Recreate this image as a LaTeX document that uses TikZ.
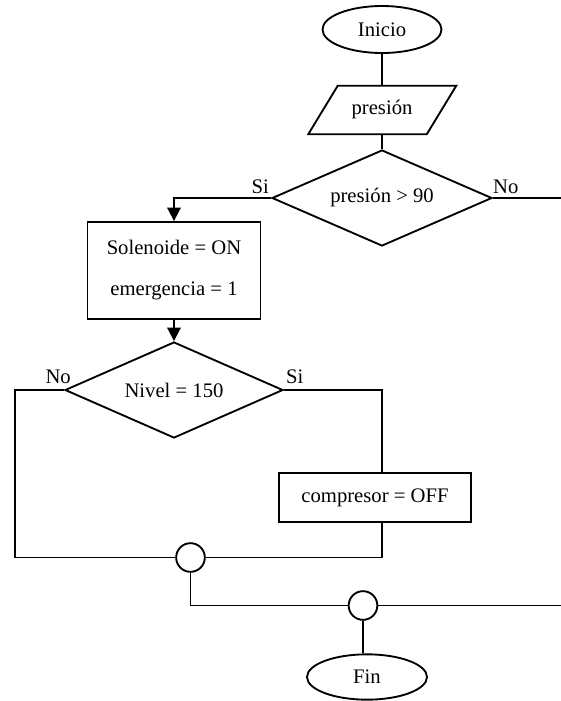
\documentclass[tikz,border=0pt]{standalone}
\usepackage{fontspec}
\setmainfont{Liberation Serif}
\usetikzlibrary{shapes.geometric,arrows.meta,calc}
\begin{document}
\begin{tikzpicture}[x=0.75pt,y=-0.75pt,
  every node/.style={font=\fontsize{15.5}{18}\selectfont, inner sep=0pt},
  flow/.style={line width=1.4pt},
  arr/.style={flow,-{Triangle[length=10pt,width=10pt]}},
  term/.style={ellipse, draw, line width=1.4pt},
  proc/.style={rectangle, draw, line width=1.4pt},
  cond/.style={diamond, draw, line width=1.4pt, shape aspect=2.29},
  joint/.style={circle, draw, line width=1.4pt, minimum size=21.5pt},
  lbl/.style={}
]
\useasboundingbox (0,0) rectangle (561,701);

% start and input
\node[term, minimum width=89.25pt, minimum height=35.25pt] (ini) at (382,29.5) {Inicio};
\node[minimum width=88.5pt, minimum height=36pt] (in) at (382,110) {presión};
\draw[flow] ($(in.north west)+(15,0)$) -- ($(in.north east)+(15,0)$)
  -- ($(in.south east)+(-14.5,0)$) -- ($(in.south west)+(-14.5,0)$) -- cycle;

% first decision and emergency block
\node[cond, minimum width=165pt, minimum height=72pt] (d1) at (382,198) {presión > 90};
\node[proc, minimum width=129.75pt, minimum height=72.75pt, align=center,
      font=\fontsize{15.5}{30.75}\selectfont] (sol) at (174,270.5) {Solenoide = ON\\emergencia = 1};

% level check and compressor
\node[cond, minimum width=163.5pt, minimum height=72pt] (d2) at (174,390) {Nivel = 150};
\node[proc, minimum width=144pt, minimum height=36.75pt] (comp) at (375,497.5) {compresor = OFF};

% junctions and end
\node[joint] (c1) at (190.5,557.5) {};
\node[joint] (c2) at (363,605.5) {};
\node[term, minimum width=90pt, minimum height=34pt] (fin) at (367,677) {Fin};

\coordinate (outA) at (561,198);
\coordinate (outB) at (561,605.5);
\coordinate (loopL) at (15,557.5);

% connectors
\draw[flow] (ini) -- (in);
\draw[flow] (in) -- (d1);
\draw[arr] (d1.west) -| (sol.north);
\draw[flow] (d1.east) -- (outA);
\draw[arr] (sol) -- (d2);
\draw[flow] (d2.west) -| (loopL) -- (c1.west);
\draw[flow] (d2.east) -| ($(comp.north)+(7,0)$);
\draw[flow] ($(comp.south)+(7,0)$) |- (c1.east);
\draw[flow] (c1.south) |- (c2.west);
\draw[flow] (c2.east) -- (outB);
\draw[flow] (c2.south) -- (c2.south |- fin.north);

% branch labels
\node[lbl, anchor=base east] (si1) at ($(d1.west)+(-2,-5)$) {Si};
\node[lbl, anchor=base west] (no1) at ($(d1.east)+(0,-5)$) {No};
\node[lbl, anchor=base east] (no2) at ($(d2.west)+(7,-7)$) {No};
\node[lbl, anchor=base west] (si2) at ($(d2.east)+(2,-7)$) {Si};
\end{tikzpicture}
\end{document}
